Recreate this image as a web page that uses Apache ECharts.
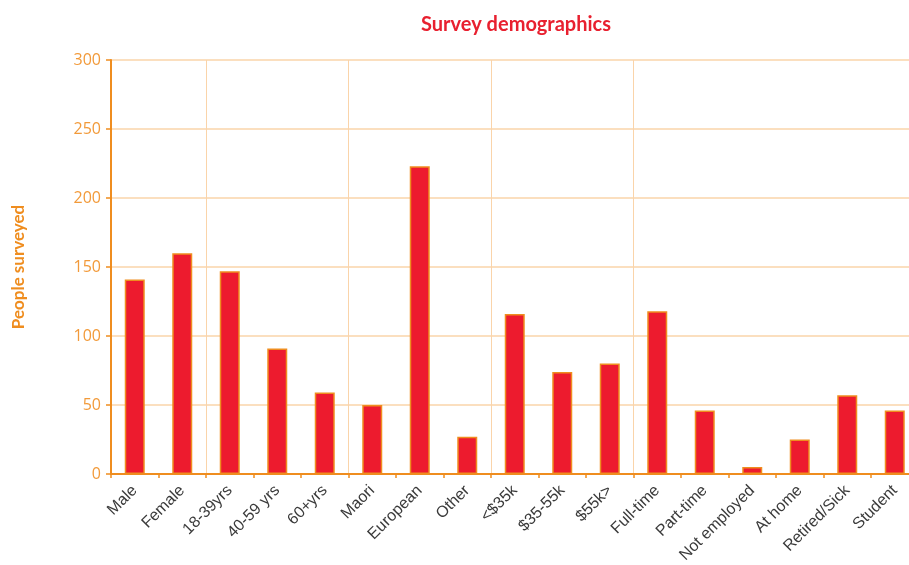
<!DOCTYPE html>
<html>
<head>
<meta charset="utf-8">
<script src="https://cdn.jsdelivr.net/npm/echarts@6/dist/echarts.min.js"></script>
<style>
  html, body { margin: 0; padding: 0; background: #fff; }
  #chart { width: 909px; height: 565px; }
</style>
</head>
<body>
<div id="chart"></div>
<script>
// Respondent counts by demographic group
const categories = [
  'Male', 'Female',
  '18-39yrs', '40-59 yrs', '60+yrs',
  'Maori', 'European', 'Other',
  '<$35k', '$35-55k', '$55k>',
  'Full-time', 'Part-time', 'Not employed', 'At home', 'Retired/Sick', 'Student'
];
const peopleSurveyed = [141, 160, 147, 91, 59, 50, 223, 27, 116, 74, 80, 118, 46, 5, 25, 57, 46];
// First category index of each group (gender, age, ethnicity, income, employment)
const groupStarts = [2, 5, 8, 11];
const yTicks = { min: 0, max: 300, step: 50 };

const ORANGE = '#ef8d1f';
const GRID_LINE = '#fad4aa';

const chart = echarts.init(document.getElementById('chart'), null, { renderer: 'canvas' });
chart.setOption({
  animation: false,
  title: {
    text: 'Survey demographics',
    left: 511,
    top: 10,
    textAlign: 'center',
    textStyle: { color: '#e8202f', fontSize: 20, fontWeight: 'bold', fontFamily: 'Lato' }
  },
  grid: {
    left: 111, top: 60, width: 807.5, height: 414,
    outerBoundsMode: 'none'
  },
  xAxis: {
    type: 'category',
    data: categories,
    boundaryGap: true,
    axisLine: { show: true, lineStyle: { color: ORANGE, width: 2 } },
    axisTick: { show: true, length: 4, lineStyle: { color: ORANGE, width: 1.5 } },
    axisLabel: {
      rotate: 45,
      interval: 0,
      margin: 14,
      color: '#3a3a3a',
      fontSize: 16,
      fontFamily: 'Liberation Sans'
    },
    splitLine: {
      show: true,
      interval: function (index) { return groupStarts.indexOf(index) !== -1; },
      lineStyle: { color: GRID_LINE, width: 1 }
    }
  },
  yAxis: {
    type: 'value',
    min: yTicks.min,
    max: yTicks.max,
    interval: yTicks.step,
    name: 'People surveyed',
    nameLocation: 'middle',
    nameGap: 84,
    nameRotate: 90,
    nameTextStyle: { color: ORANGE, fontSize: 17, fontWeight: 'bold', fontFamily: 'Lato' },
    axisLine: { show: true, lineStyle: { color: ORANGE, width: 2 } },
    axisTick: { show: true, length: 5, lineStyle: { color: ORANGE, width: 1.5 } },
    axisLabel: { color: '#f29a3a', fontSize: 16, margin: 10, fontFamily: 'Open Sans' },
    splitLine: { show: true, lineStyle: { color: GRID_LINE, width: 1.5 } }
  },
  series: [{
    type: 'bar',
    data: peopleSurveyed,
    barWidth: 20,
    itemStyle: { color: '#ed1b2e', borderColor: ORANGE, borderWidth: 1.5 }
  }]
});
</script>
</body>
</html>
